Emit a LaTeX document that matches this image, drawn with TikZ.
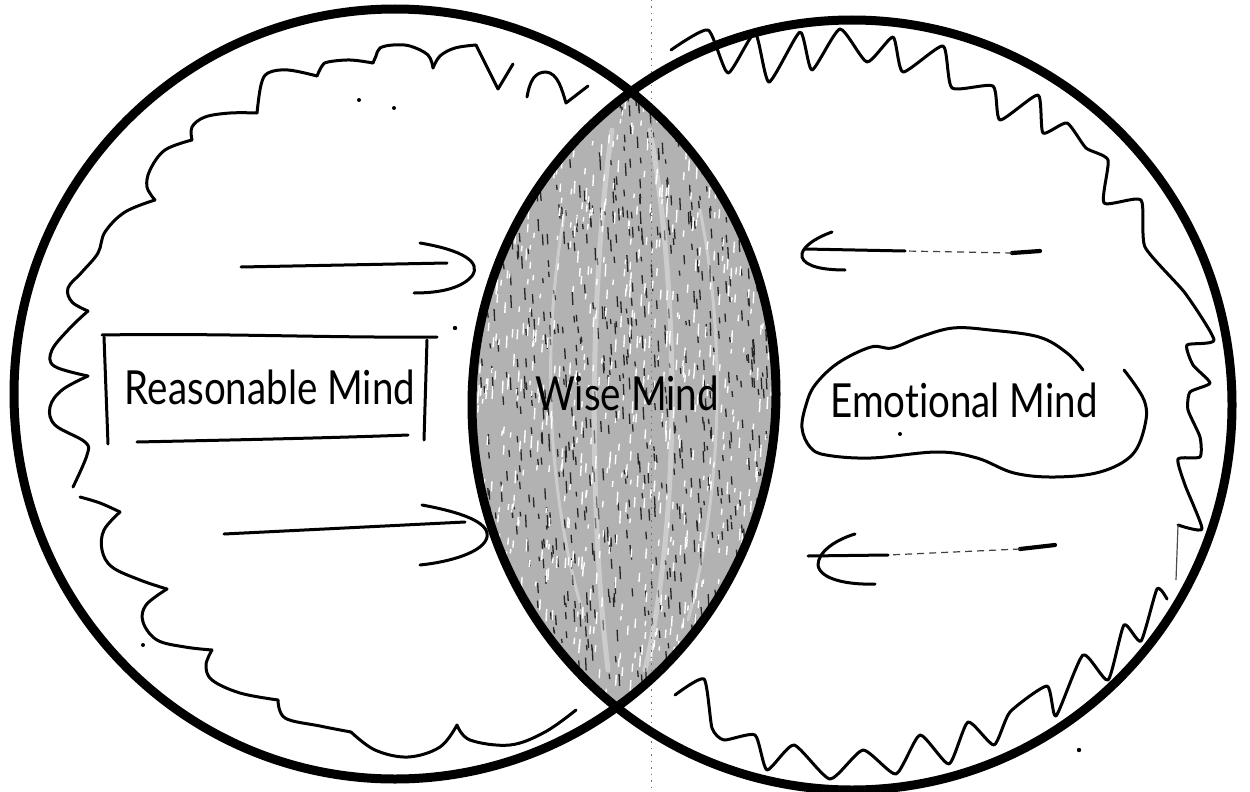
\documentclass[tikz,border=0pt]{standalone}
\usepackage{fontspec}
\usepackage{graphicx}
\setmainfont{Lato}[Ligatures=NoCommon]
\newcommand{\tallfont}[1]{\scalebox{1}[1.22]{#1}}
\begin{document}
\begin{tikzpicture}[x=1pt,y=-1pt,
  ring/.style={line width=9pt, draw=black},
  hand/.style={line width=3pt, draw=black, line cap=round, line join=round},
  handthick/.style={line width=4.2pt, draw=black, line cap=round, line join=round},
  brokenline/.style={line width=1.2pt, draw=black!75, dash pattern=on 7pt off 5pt},
  fold/.style={line width=1pt, draw=black!55, dash pattern=on 1.5pt off 5pt},
  streak/.style={line width=5pt, draw=white, opacity=0.35, line cap=round},
  speck/.style={fill=black},
  mindtext/.style={inner sep=0pt, anchor=base, font=\fontsize{38.5}{40}\selectfont},
  lensfill/.style={fill=black!30},
]
\useasboundingbox (0,0) rectangle (1250,792);
\fill[white] (0,0) rectangle (1250,792);

% fold line of the scan
\draw[fold] (651,0) -- (651,792);

% lens (Wise Mind area) with a speckled texture
\begin{scope}
  \clip (395,394) ellipse [x radius=381pt, y radius=385pt];
  \clip (852,405) ellipse [x radius=380pt, y radius=385pt];
  \fill[lensfill] (400,0) rectangle (850,792);
  \pgfmathsetseed{11}
  \foreach \i in {1,...,900} {
    \pgfmathsetmacro{\xx}{470+310*rnd}
    \pgfmathsetmacro{\yy}{90+620*rnd}
    \pgfmathsetmacro{\ll}{4+9*rnd}
    \draw[black!85, line width=1.3pt] (\xx,\yy) -- ++(0.6,\ll);
  }
  \foreach \i in {1,...,800} {
    \pgfmathsetmacro{\xx}{470+310*rnd}
    \pgfmathsetmacro{\yy}{90+620*rnd}
    \pgfmathsetmacro{\ll}{4+9*rnd}
    \draw[white, line width=1.4pt] (\xx,\yy) -- ++(-0.6,\ll);
  }
  \draw[streak] (612,130) .. controls (588,300) and (590,520) .. (608,670);
  \draw[streak] (650,130) .. controls (680,300) and (680,520) .. (645,670);
  \draw[streak, line width=3pt] (565,210) .. controls (540,350) and (548,500) .. (585,620);
  \draw[streak, line width=3pt] (700,210) .. controls (728,350) and (720,500) .. (688,620);
  \draw[fold] (651,0) -- (651,792);
\end{scope}

% the two circles
\draw[ring] (395,394) ellipse [x radius=381pt, y radius=385pt];
\draw[ring] (852,405) ellipse [x radius=380pt, y radius=385pt];

% ---- left cloud line (top part) ----
\draw[hand] (513,64) -- (498,89) -- (476,45);
\draw[hand] plot[smooth, tension=0.6] coordinates {(476,45) (455,48) (440,56) (433,68)};
\draw[hand] plot[smooth, tension=0.6] coordinates {(433,68) (428,55) (410,46) (393,45) (380,48) (376,56) (373,63)};
\draw[hand] plot[smooth, tension=0.6] coordinates {(373,63) (350,60) (328,62) (322,66) (317,76)};
\draw[hand] plot[smooth, tension=0.6] coordinates {(317,76) (288,70) (268,73) (261,85) (257,113)};
\draw[hand] plot[smooth, tension=0.6] coordinates {(257,113) (230,113) (205,117) (192,127) (192,140)};
\draw[hand] plot[smooth, tension=0.6] coordinates {(192,140) (165,150) (150,170) (147,187) (155,200)};
\draw[hand] plot[smooth, tension=0.6] coordinates {(155,200) (125,212) (105,232) (98,253) (82,272) (68,288) (72,302) (88,311)};
\draw[hand] plot[smooth, tension=0.6] coordinates {(88,311) (70,328) (52,350) (54,366) (88,376)};
\draw[hand] plot[smooth, tension=0.6] coordinates {(88,376) (62,390) (50,407) (55,425) (85,442) (87,455) (73,487)};
% n-shaped stroke at the top
\draw[hand] (527,97) .. controls (530,80) and (535,72) .. (546,72) .. controls (558,73) and (562,90) .. (566,103) -- (588,86);

% ---- left cloud line (bottom part) ----
\draw[hand] plot[smooth, tension=0.6] coordinates {(80,497) (100,503) (120,512)};
\draw[hand] plot[smooth, tension=0.6] coordinates {(120,512) (104,530) (102,550) (112,567) (140,580) (167,589)};
\draw[hand] plot[smooth, tension=0.6] coordinates {(167,589) (146,605) (143,622) (157,640) (185,647) (212,650)};
\draw[hand] plot[smooth, tension=0.6] coordinates {(212,650) (206,665) (212,680) (240,693) (278,700)};
\draw[hand] plot[smooth, tension=0.6] coordinates {(278,700) (285,718) (320,726) (351,732)};
\draw[hand] plot[smooth, tension=0.6] coordinates {(351,732) (375,750) (408,757) (440,747) (457,725)};
\draw[hand] plot[smooth, tension=0.6] coordinates {(457,725) (470,740) (510,745) (545,732) (576,710)};

% ---- right zigzag line ----
\draw[hand] plot[smooth, tension=0.35] coordinates {(671,50) (708,30) (728,73) (755,33) (769,82) (800,32) (812,70) (840,29) (867,62) (893,37) (903,72) (943,46) (952,88) (993,86) (1000,120) (1038,95) (1043,133) (1067,123) (1086,148) (1108,160) (1104,203) (1141,200) (1145,247) (1185,293) (1214,340) (1187,345) (1193,365) (1210,383) (1190,392) (1188,410) (1200,437) (1200,457) (1178,459) (1185,485) (1202,529) (1178,525)};
\draw[line width=1.2pt, black!70] (1178,525) -- (1176,580);
\draw[hand] plot[smooth, tension=0.35] coordinates {(1167,599) (1157,589) (1141,641) (1124,625) (1108,680) (1083,655) (1056,716) (1047,686) (1010,712) (994,745) (968,722) (949,764) (920,735) (896,774) (863,750) (830,779) (794,745) (767,770) (755,735) (724,740) (712,728) (704,679) (675,695)};

% ---- Reasonable Mind box ----
\draw[hand] (102,335) .. controls (220,333) and (330,338) .. (437,337);
\draw[hand] (104,337) -- (108,444);
\draw[hand] (427,340) -- (424,440);
\draw[hand] (137,442) .. controls (230,440) and (330,438) .. (408,435);

% ---- Emotional Mind blob ----
\draw[hand] plot[smooth, tension=0.6] coordinates {(1083,370) (1067,353) (1039,337) (990,330) (953,328) (920,337) (892,348) (871,347) (838,363) (815,385) (806,405) (802,428) (810,447) (826,455) (871,458) (937,452) (977,458) (1014,473) (1055,477) (1100,472) (1132,455) (1145,425) (1144,400) (1124,370)};

% ---- texts ----
\node[mindtext] (reasonable) at (270,404) {\tallfont{Reasonable Mind}};
\node[mindtext] (wise) at (627,410) {\tallfont{Wise Mind}};
\node[mindtext] (emotional) at (964,417) {\tallfont{Emotional Mind}};

% ---- arrows from the left ----
\coordinate (la1) at (241,267); \coordinate (lb1) at (447,263);
\draw[hand] (la1) -- (lb1);
\draw[hand] (420,243) .. controls (462,250) and (482,262) .. (472,276) .. controls (460,290) and (435,293) .. (414,293);
\coordinate (la2) at (224,534); \coordinate (lb2) at (465,522);
\draw[hand] (la2) -- (lb2);
\draw[hand] (422,505) .. controls (460,512) and (490,522) .. (487,537) .. controls (484,552) and (450,562) .. (420,565);

% ---- arrows from the right ----
\coordinate (ra1) at (1040,251); \coordinate (rm1) at (1012,253); \coordinate (rn1) at (905,251); \coordinate (rb1) at (805,249);
\draw[handthick] (ra1) -- (rm1);
\draw[brokenline] (rm1) -- (rn1);
\draw[hand] (rn1) -- (rb1);
\draw[hand] (832,232) .. controls (815,238) and (800,248) .. (802,257) .. controls (805,267) and (825,270) .. (845,270);
\coordinate (ra2) at (1055,545); \coordinate (rm2) at (1020,549); \coordinate (rn2) at (888,555); \coordinate (rb2) at (808,556);
\draw[handthick] (ra2) -- (rm2);
\draw[brokenline] (rm2) -- (rn2);
\draw[hand] (rn2) -- (rb2);
\draw[hand] (855,534) .. controls (835,540) and (818,552) .. (818,565) .. controls (820,580) and (850,585) .. (875,584);

% ---- specks ----
\fill[speck] (455,328) circle (2.2pt);
\fill[speck] (359,100) circle (2pt);
\fill[speck] (394,108) circle (2pt);
\fill[speck] (143,645) circle (2pt);
\fill[speck] (900,434) circle (2pt);
\fill[speck] (1079,750) circle (2.2pt);
\end{tikzpicture}
\end{document}
